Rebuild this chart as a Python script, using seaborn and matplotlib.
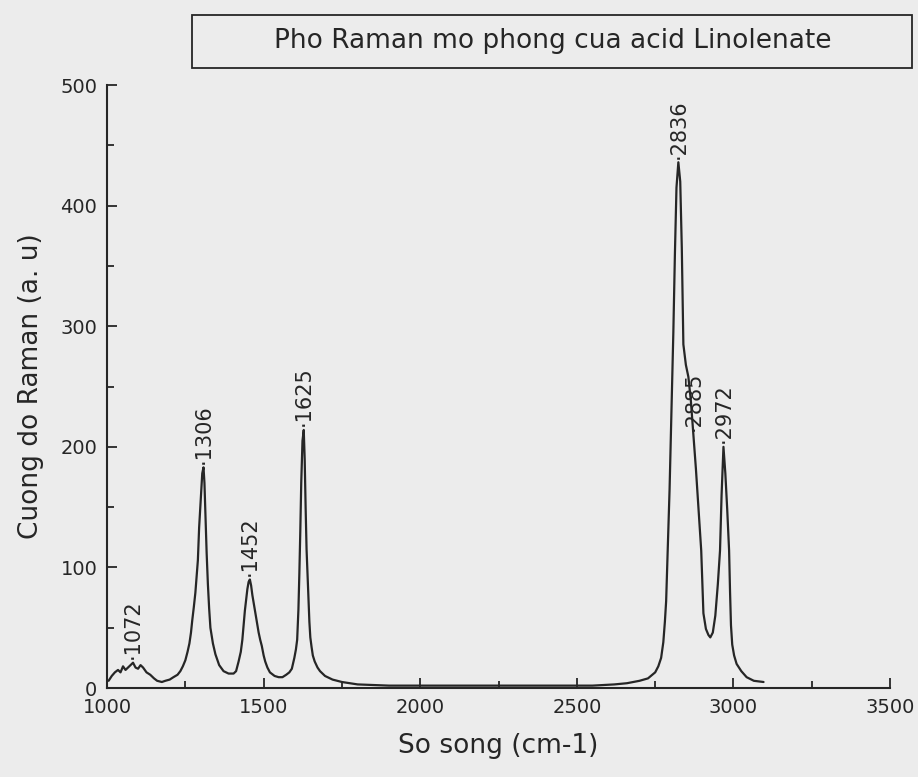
import pandas as pd
import seaborn as sns
import matplotlib.pyplot as plt
from matplotlib.patches import Rectangle
from matplotlib.ticker import MultipleLocator

# spectrum (wavenumber cm-1, intensity a.u.)
wavenumber = [1005, 1015, 1025, 1035, 1043, 1051, 1059, 1067, 1075, 1083,
              1091, 1099, 1107, 1115, 1126, 1138, 1150, 1160, 1175, 1186,
              1200, 1212, 1225, 1234, 1242, 1250, 1257, 1263, 1268, 1272,
              1277, 1282, 1286, 1290, 1294, 1300, 1304, 1308, 1311, 1314,
              1318, 1322, 1326, 1330, 1338, 1346, 1358, 1372, 1388, 1404,
              1412, 1420, 1427, 1432, 1436, 1440, 1444, 1448, 1452, 1456,
              1460, 1464, 1470, 1475, 1480, 1484, 1489, 1494, 1500, 1505,
              1512, 1520, 1535, 1548, 1560, 1572, 1582, 1590, 1598, 1603,
              1607, 1611, 1614, 1617, 1620, 1624, 1628, 1631, 1634, 1637,
              1640, 1643, 1646, 1649, 1653, 1657, 1663, 1672, 1680, 1696,
              1720, 1750, 1800, 1900, 2000, 2200, 2400, 2550, 2620, 2660,
              2700, 2727, 2750, 2760, 2769, 2776, 2781, 2785, 2790, 2796,
              2802, 2808, 2813, 2818, 2824, 2830, 2835, 2840, 2848, 2856,
              2864, 2872, 2880, 2888, 2897, 2904, 2912, 2920, 2926, 2934,
              2942, 2950, 2957, 2962, 2968, 2974, 2980, 2986, 2989, 2992,
              2996, 3002, 3010, 3025, 3042, 3065, 3096]
intensity = [6, 10, 13, 15, 13, 18, 15, 17, 19, 21,
             17, 16, 19, 17, 13, 11, 8, 6, 5, 6,
             7, 9, 11, 14, 18, 23, 30, 37, 46, 56,
             67, 79, 92, 106, 133, 160, 178, 183, 170, 145,
             112, 86, 66, 50, 37, 28, 19, 14, 12, 12,
             14, 22, 30, 40, 52, 64, 73, 82, 88, 90,
             85, 77, 68, 60, 52, 46, 40, 35, 27, 22,
             17, 13, 10, 9, 9, 11, 13, 16, 25, 32,
             40, 65, 95, 130, 170, 205, 214, 190, 150, 115,
             95, 75, 55, 42, 34, 27, 22, 17, 14, 10,
             7, 5, 3, 2, 2, 2, 2, 2, 3, 4,
             6, 8, 13, 18, 25, 38, 55, 72, 114, 165,
             230, 295, 360, 415, 436, 420, 365, 285, 268, 258,
             238, 210, 182, 150, 114, 62, 49, 44, 42, 46,
             60, 86, 114, 160, 200, 178, 148, 114, 80, 52,
             36, 27, 20, 14, 9, 6, 5]

peak_text = ['1072', '1306', '1452', '1625', '2836', '2885', '2972']
peak_x = [1083, 1308, 1456, 1628, 2824, 2872, 2968]
peak_y = [21, 183, 90, 214, 436, 210, 200]

title = 'Pho Raman mo phong cua acid Linolenate'

df = pd.DataFrame({'wavenumber': wavenumber, 'intensity': intensity})

sns.set_style('ticks')
plt.rcParams['font.family'] = ['DejaVu Sans']

ink = '#262626'
paper = '#ececec'

fig = plt.figure(figsize=(9.18, 7.77), dpi=100, facecolor=paper)
ax = fig.add_axes([0.1166, 0.1145, 0.853, 0.776])
ax.set_facecolor(paper)

sns.lineplot(data=df, x='wavenumber', y='intensity', ax=ax, color=ink,
             lw=1.6, sort=False, estimator=None)

# peak labels, rotated like in the original
for t, x, y in zip(peak_text, peak_x, peak_y):
    ax.text(x, y + 3, '\u00b7' + t, rotation=90, ha='center', va='bottom',
            fontsize=15, color=ink)

ax.set_xlim(1000, 3500)
ax.set_ylim(0, 500)
ax.xaxis.set_major_locator(MultipleLocator(500))
ax.xaxis.set_minor_locator(MultipleLocator(250))
ax.yaxis.set_major_locator(MultipleLocator(100))
ax.yaxis.set_minor_locator(MultipleLocator(50))
ax.tick_params(which='both', direction='in', color=ink, width=1.3,
               labelsize=14, labelcolor=ink, pad=7)
ax.tick_params(which='major', length=7)
ax.tick_params(which='minor', length=5)

sns.despine(ax=ax)
for s in ['left', 'bottom']:
    ax.spines[s].set_linewidth(1.5)
    ax.spines[s].set_color(ink)

ax.set_xlabel('So song (cm-1)', fontsize=19, color=ink, labelpad=12)
ax.set_ylabel('Cuong do Raman (a. u)', fontsize=19, color=ink, labelpad=12)

# boxed title on top
fig.add_artist(Rectangle((192 / 918, 1 - 68 / 777), 720 / 918, 53 / 777,
                         transform=fig.transFigure, fill=False, ec=ink, lw=1.3))
fig.text(0.602, 0.947, title, ha='center', va='center', fontsize=19, color=ink)

fig.savefig('out.png', dpi=100, facecolor=paper)
